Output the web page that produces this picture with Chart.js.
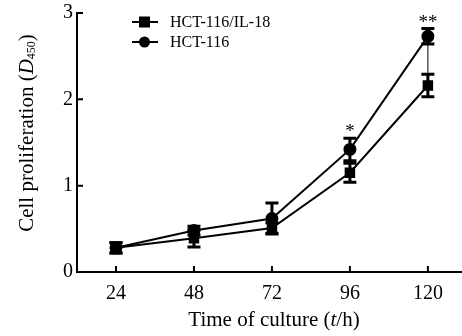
<!DOCTYPE html>
<html>
<head>
<meta charset="utf-8">
<script src="https://cdn.jsdelivr.net/npm/chart.js@4/dist/chart.umd.min.js"></script>
<style>
  html, body { margin: 0; padding: 0; background: #fff; }
  #wrap { width: 462px; height: 336px; }
</style>
</head>
<body>
<div id="wrap"><canvas id="chart" width="462" height="336"></canvas></div>
<script>
// cell proliferation curve, serif journal style

const hours = [24, 48, 72, 96, 120];
const il18Mean = [0.28, 0.39, 0.51, 1.15, 2.16];
const il18Err = [0.06, 0.10, 0.06, 0.11, 0.13];
const ctrlMean = [0.28, 0.48, 0.62, 1.42, 2.73];
const ctrlErr = [0.06, 0.05, 0.18, 0.13, 0.09];
const yTicks = [0, 1, 2, 3];
const sigHours = [96, 120];
const sigMarks = ['*', '**'];

const FONT = '"Liberation Serif", "Times New Roman", serif';

function pts(xs, ys) { return xs.map((x, i) => ({ x, y: ys[i] })); }

// error bars, inward ticks, titles, legend, significance marks
const decor = {
  id: 'decor',
  beforeDatasetsDraw(chart) {
    const { ctx } = chart;
    const xs = chart.scales.x, ys = chart.scales.y;
    ctx.save();
    ctx.strokeStyle = '#000';
    ctx.lineWidth = 3;
    [[il18Mean, il18Err], [ctrlMean, ctrlErr]].forEach(([m, e]) => {
      hours.forEach((h, i) => {
        const px = xs.getPixelForValue(h);
        const top = ys.getPixelForValue(m[i] + e[i]);
        const bot = ys.getPixelForValue(m[i] - e[i]);
        ctx.beginPath();
        ctx.moveTo(px, top); ctx.lineTo(px, bot);
        ctx.moveTo(px - 6.5, top); ctx.lineTo(px + 6.5, top);
        ctx.moveTo(px - 6.5, bot); ctx.lineTo(px + 6.5, bot);
        ctx.stroke();
      });
    });
    // thin connector between the two groups at 120 h
    const last = hours.length - 1;
    const cx = xs.getPixelForValue(hours[last]);
    ctx.lineWidth = 1;
    ctx.beginPath();
    ctx.moveTo(cx, ys.getPixelForValue(ctrlMean[last] - ctrlErr[last]));
    ctx.lineTo(cx, ys.getPixelForValue(il18Mean[last] + il18Err[last]));
    ctx.stroke();
    ctx.restore();
  },
  afterDraw(chart) {
    const { ctx, chartArea } = chart;
    const xs = chart.scales.x, ys = chart.scales.y;
    ctx.save();
    ctx.strokeStyle = '#000';
    ctx.fillStyle = '#000';
    ctx.lineWidth = 2;
    // inward ticks
    ctx.beginPath();
    yTicks.forEach(v => {
      const py = ys.getPixelForValue(v);
      ctx.moveTo(chartArea.left, py); ctx.lineTo(chartArea.left + 6, py);
    });
    hours.forEach(h => {
      const px = xs.getPixelForValue(h);
      ctx.moveTo(px, chartArea.bottom); ctx.lineTo(px, chartArea.bottom - 6);
    });
    ctx.stroke();

    // significance marks
    ctx.font = '19px ' + FONT;
    ctx.textAlign = 'center';
    ctx.textBaseline = 'alphabetic';
    sigHours.forEach((h, k) => {
      const i = hours.indexOf(h);
      const px = xs.getPixelForValue(h);
      const py = ys.getPixelForValue(ctrlMean[i] + ctrlErr[i]);
      ctx.fillText(sigMarks[k], px, py - 1);
    });

    // legend
    const items = [
      { label: 'HCT-116/IL-18', style: 'rect' },
      { label: 'HCT-116', style: 'circle' },
    ];
    ctx.font = '16px ' + FONT;
    ctx.textAlign = 'left';
    ctx.textBaseline = 'middle';
    items.forEach((it, k) => {
      const y = 22 + k * 20;
      ctx.lineWidth = 2;
      ctx.beginPath(); ctx.moveTo(132, y); ctx.lineTo(158, y); ctx.stroke();
      ctx.beginPath();
      if (it.style === 'rect') ctx.rect(139, y - 5.5, 11, 11);
      else ctx.arc(144.5, y, 5.5, 0, Math.PI * 2);
      ctx.fill();
      ctx.fillText(it.label, 170, y + 1);
    });

    // x title: Time of culture (t/h)
    const xParts = [
      ['Time of culture (', ''], ['t', 'italic '], ['/h)', ''],
    ];
    let w = 0;
    xParts.forEach(([t, s]) => { ctx.font = s + '21px ' + FONT; w += ctx.measureText(t).width; });
    let x0 = 274 - w / 2;
    xParts.forEach(([t, s]) => {
      ctx.font = s + '21px ' + FONT;
      ctx.fillText(t, x0, 320);
      x0 += ctx.measureText(t).width;
    });

    // y title: Cell proliferation (D450)
    ctx.translate(27, 133);
    ctx.rotate(-Math.PI / 2);
    const yParts = [
      ['Cell proliferation (', '', 21, 0],
      ['D', 'italic ', 21, 0],
      ['450', '', 12, 5],
      [')', '', 21, 0],
    ];
    w = 0;
    yParts.forEach(([t, s, sz]) => { ctx.font = s + sz + 'px ' + FONT; w += ctx.measureText(t).width; });
    x0 = -w / 2;
    yParts.forEach(([t, s, sz, dy]) => {
      ctx.font = s + sz + 'px ' + FONT;
      ctx.fillText(t, x0, dy);
      x0 += ctx.measureText(t).width;
    });
    ctx.restore();
  },
};

new Chart(document.getElementById('chart'), {
  type: 'scatter',
  data: {
    datasets: [
      {
        label: 'HCT-116/IL-18', data: pts(hours, il18Mean), showLine: true,
        borderColor: '#000', borderWidth: 2, pointStyle: 'rect', pointRadius: 6,
        pointBackgroundColor: '#000', pointBorderColor: '#000',
      },
      {
        label: 'HCT-116', data: pts(hours, ctrlMean), showLine: true,
        borderColor: '#000', borderWidth: 2, pointStyle: 'circle', pointRadius: 5.5,
        pointBackgroundColor: '#000', pointBorderColor: '#000',
      },
    ],
  },
  options: {
    responsive: false, animation: false,
    layout: { autoPadding: false, padding: { top: 13, right: 0, left: 0, bottom: 0 } },
    plugins: { legend: { display: false }, tooltip: { enabled: false } },
    scales: {
      x: {
        type: 'linear', min: 12, max: 130.5,
        afterBuildTicks(s) { s.ticks = hours.map(v => ({ value: v })); },
        afterFit(s) { s.height = 64; s.paddingRight = 0; s.paddingLeft = 0; },
        grid: { display: false, drawTicks: false },
        border: { color: '#000', width: 2 },
        ticks: { color: '#000', padding: 10, font: { family: FONT, size: 20 } },
      },
      y: {
        min: 0, max: 3,
        afterBuildTicks(s) { s.ticks = yTicks.map(v => ({ value: v })); },
        afterFit(s) { s.width = 77; s.paddingTop = 0; s.paddingBottom = 0; },
        grid: { display: false, drawTicks: false },
        border: { color: '#000', width: 2 },
        ticks: { color: '#000', padding: 4, font: { family: FONT, size: 20 } },
      },
    },
  },
  plugins: [decor],
});
</script>
</body>
</html>
